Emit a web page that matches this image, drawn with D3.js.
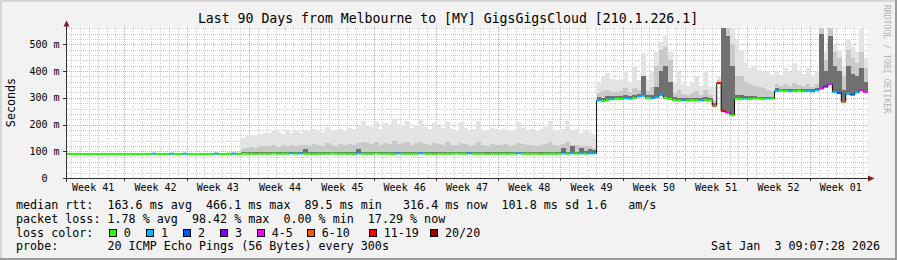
<!DOCTYPE html>
<html><head><meta charset="utf-8">
<script src="https://cdn.jsdelivr.net/npm/d3@7"></script>
<style>
html,body{margin:0;padding:0;background:#f2f2f2;}
svg{display:block;}
text{font-family:"DejaVu Sans Mono",monospace;white-space:pre;}
</style></head><body>
<svg id="chart" width="897" height="260"></svg>
<script>
// ---------------- data ----------------
const title = "Last 90 Days from Melbourne to [MY] GigsGigsCloud [210.1.226.1]";
const yAxisTitle = "Seconds";
const watermark = "RRDTOOL / TOBI OETIKER";
const yTickValues = [0, 100, 200, 300, 400, 500];
const yTickLabels = ["0", "100 m", "200 m", "300 m", "400 m", "500 m"];
const rangeStart = Date.UTC(2025, 9, 5, 13, 26);
const rangeEnd = Date.UTC(2026, 0, 3, 13, 26);
const sampleHours = 12;

// median rtt per 12h sample (ms)
const median = [
  90,90,90,90,89.5,90,90,90,90,90,
  90,90,89.5,90,90,90,90,90,90,91,
  90,90,90,91,90,90,91,90,90,90,
  90,90,90,91,90,90,90,91,90,91,
  91,91,90,91,91,91,92,91,91,91,
  92,91,92,91,91,90,91,91,91,92,
  91,91,91,91,90,92,91,91,91,92,
  91,91,91,90,92,91,91,91,91,92,
  91,91,90,91,91,91,91,92,91,91,
  92,91,91,91,90,91,91,91,91,91,
  91,92,91,91,91,91,90,91,91,91,
  91,92,91,92,91,92,91,92,92,290,
  288,292,295,297,296,298,297,300,305,308,
  300,298,302,310,300,296,292,290,291,290,
  292,291,290,292,290,270,355,250,245,235,
  297,296,298,296,298,297,296,298,297,326,
  327,326,325,326,327,325,326,324,328,335,
  342,352,322,318,285,315,312,320,328,322
];
// loss class index per sample (0:"0" .. 7:"20/20")
const lossClass = [
  0,0,0,0,0,0,0,0,0,0,
  0,0,0,0,0,0,0,0,0,1,
  0,0,0,1,0,0,1,0,0,0,
  0,0,0,1,0,0,0,1,0,0,
  0,0,0,0,0,0,0,0,0,0,
  1,0,1,0,0,0,0,0,0,0,
  0,0,0,0,0,1,0,0,0,0,
  0,0,0,0,1,0,0,0,0,1,
  0,0,0,0,0,0,0,0,0,0,
  1,0,0,0,0,0,0,0,0,0,
  0,1,0,0,0,0,0,0,0,0,
  0,1,0,1,0,1,0,1,1,1,
  0,0,1,0,0,1,1,0,1,1,
  0,1,1,1,0,0,0,0,1,0,
  0,0,1,0,0,5,6,6,4,0,
  0,0,1,0,0,0,0,1,0,1,
  0,0,1,0,0,0,1,1,1,4,
  3,4,1,2,5,1,2,1,4,4
];
// smoke: highest ping per sample (ms)
const smokeMax = [
  93,93,94,93,93,94,93,93,94,93,
  93,94,93,93,94,93,94,93,93,95,
  94,93,94,95,93,94,95,93,94,95,
  94,95,94,96,95,95,96,97,98,150,
  158,162,160,165,170,168,175,172,165,178,
  170,175,168,180,176,185,178,172,190,180,
  176,184,178,188,182,195,215,200,190,210,
  185,205,195,220,190,200,212,188,198,218,
  192,185,205,195,188,210,182,178,208,186,
  176,184,214,180,175,188,182,178,185,176,
  180,210,186,178,184,176,182,190,212,180,
  175,185,215,178,182,170,176,172,165,360,
  380,392,370,365,372,400,360,414,365,466,
  370,400,470,510,533,470,355,403,350,345,
  360,380,345,400,340,335,380,563,563,563,
  515,480,430,410,420,405,395,400,385,400,
  385,410,395,430,405,390,410,380,395,563,
  470,563,500,480,420,515,490,470,563,450
];
// smoke: upper ping band (ms)
const smokeUp = [
  91,91,91,91,91,91,91,91,91,91,
  91,91,91,91,91,91,91,91,91,92,
  91,91,91,92,91,91,92,91,91,91,
  91,91,91,92,91,92,92,93,94,108,
  112,115,112,118,120,118,122,115,125,120,
  122,118,124,125,120,128,122,118,130,124,
  120,126,122,128,125,132,135,130,126,134,
  124,132,128,138,126,130,134,125,130,136,
  128,124,132,128,125,134,124,122,132,126,
  120,125,134,124,120,126,124,122,126,120,
  124,132,126,122,125,120,124,128,134,124,
  120,126,135,122,125,118,120,118,112,318,
  325,330,322,320,325,335,322,338,330,350,
  325,340,420,480,490,440,318,330,315,312,
  318,325,312,330,310,290,365,563,560,500,
  380,380,360,350,345,340,335,330,325,350,
  345,350,345,355,348,344,350,340,350,563,
  440,563,470,450,380,480,450,430,470,410
];
// smoke: dense core band (ms)
const smokeCore = [
  91,91,91,91,91,91,91,91,91,91,
  91,91,91,91,91,91,91,91,91,91,
  91,91,91,91,91,91,91,91,91,91,
  91,91,91,92,91,91,91,92,91,96,
  97,96,98,97,96,97,98,96,97,98,
  97,96,98,108,97,96,97,98,96,97,
  98,97,96,98,97,110,99,97,98,97,
  96,98,97,99,96,97,98,97,96,99,
  97,96,98,97,96,98,97,96,98,97,
  96,97,99,97,96,98,97,96,97,96,
  97,98,96,97,98,96,97,98,99,97,
  96,112,97,118,98,114,100,110,104,302,
  300,305,306,305,306,310,306,312,315,380,
  310,312,340,400,420,360,302,300,298,298,
  300,300,298,302,298,280,360,563,530,420,
  310,310,308,305,305,304,303,304,303,335,
  334,333,333,334,334,332,334,332,336,540,
  400,530,420,400,330,420,390,380,410,360
];
const lossLabels = ["0", "1", "2", "3", "4-5", "6-10", "11-19", "20/20"];
const lossColors = ["#26ff00", "#00b8ff", "#0059ff", "#7e00ff", "#ff00ff", "#ff5500", "#ff0000", "#a10000"];
const legendLines = [
  "median rtt:  163.6 ms avg  466.1 ms max  89.5 ms min   316.4 ms now  101.8 ms sd 1.6   am/s",
  "packet loss: 1.78 % avg  98.42 % max  0.00 % min  17.29 % now",
  "loss color:",
  "probe:       20 ICMP Echo Pings (56 Bytes) every 300s"
];
const dateText = "Sat Jan  3 09:07:28 2026";

// ---------------- drawing ----------------
const W = 897, H = 260;
const svg = d3.select("#chart");
svg.append("rect").attr("width", W).attr("height", H).attr("fill", "#f2f2f2");
svg.append("rect").attr("x", 0).attr("y", 0).attr("width", W).attr("height", 2).attr("fill", "#d6d6d6");
svg.append("rect").attr("x", 0).attr("y", 0).attr("width", 2).attr("height", H).attr("fill", "#d6d6d6");
svg.append("rect").attr("x", 0).attr("y", H - 2).attr("width", W).attr("height", 2).attr("fill", "#9c9c9c");
svg.append("rect").attr("x", W - 2).attr("y", 0).attr("width", 2).attr("height", H).attr("fill", "#9c9c9c");

const L = 67, R = 868, T = 27, B = 178;
const x = d3.scaleUtc().domain([rangeStart, rangeEnd]).range([L, R]);
const y = d3.scaleLinear().domain([0, 565]).range([B, T]);
const crisp = v => Math.round(v) + 0.5;

svg.append("rect").attr("x", L).attr("y", T).attr("width", R - L).attr("height", B - T).attr("fill", "#ffffff");

// grid
const grid = svg.append("g").attr("shape-rendering", "crispEdges").attr("stroke-dasharray", "1,1");
d3.utcDay.range(rangeStart, rangeEnd).forEach(d => {
  grid.append("line").attr("x1", crisp(x(d))).attr("x2", crisp(x(d)))
    .attr("y1", T).attr("y2", B).attr("stroke", "#d0d0d0");
});
d3.range(20, 565, 20).filter(v => v % 100 !== 0).forEach(v => {
  grid.append("line").attr("x1", L).attr("x2", R).attr("y1", crisp(y(v))).attr("y2", crisp(y(v)))
    .attr("stroke", "#d0d0d0");
});
d3.utcSunday.range(rangeStart, rangeEnd).forEach(d => {
  grid.append("line").attr("x1", crisp(x(d))).attr("x2", crisp(x(d)))
    .attr("y1", T).attr("y2", B).attr("stroke", "#eca0a0");
});
yTickValues.filter(v => v > 0).forEach(v => {
  grid.append("line").attr("x1", L).attr("x2", R).attr("y1", crisp(y(v))).attr("y2", crisp(y(v)))
    .attr("stroke", "#eca0a0");
});

// samples
const stepMs = sampleHours * 3600 * 1000;
const samples = median.map((m, i) => ({
  t0: rangeStart + i * stepMs,
  t1: rangeStart + (i + 1) * stepMs,
  med: m, loss: lossClass[i], max: smokeMax[i], up: smokeUp[i], core: smokeCore[i]
}));

// smoke layers
const smoke = svg.append("g").attr("shape-rendering", "crispEdges");
[["max", "#e3e3e3"], ["up", "#c9c9c9"], ["core", "#707070"]].forEach(([key, col]) => {
  smoke.selectAll(null).data(samples).enter().append("rect")
    .attr("x", d => x(d.t0))
    .attr("width", d => x(d.t1) - x(d.t0) + 0.3)
    .attr("y", d => y(Math.max(d[key], d.med)))
    .attr("height", d => Math.abs(y(d.med) - y(Math.max(d[key], d.med))))
    .attr("fill", col);
});

// median line (black step connector + loss colored segments)
const pts = samples.map(d => [x(d.t0), y(d.med)]);
pts.push([x(rangeEnd), y(median[median.length - 1])]);
svg.append("path").attr("d", d3.line().curve(d3.curveStepAfter)(pts))
  .attr("fill", "none").attr("stroke", "#111").attr("stroke-width", 1);
svg.append("g").selectAll("line").data(samples).enter().append("line")
  .attr("x1", d => x(d.t0)).attr("x2", d => x(d.t1))
  .attr("y1", d => y(d.med)).attr("y2", d => y(d.med))
  .attr("stroke", d => lossColors[d.loss]).attr("stroke-width", 2);

// axes
const axisCol = "#333";
const ax = svg.append("g").attr("shape-rendering", "crispEdges");
ax.append("line").attr("x1", 63).attr("x2", 869).attr("y1", B + 0.5).attr("y2", B + 0.5).attr("stroke", axisCol);
ax.append("line").attr("x1", L - 0.5).attr("x2", L - 0.5).attr("y1", 24).attr("y2", 182).attr("stroke", axisCol);
yTickValues.forEach(v => {
  ax.append("line").attr("x1", 63).attr("x2", L).attr("y1", crisp(y(v))).attr("y2", crisp(y(v))).attr("stroke", axisCol);
});
d3.utcSunday.range(rangeStart, rangeEnd).forEach(d => {
  ax.append("line").attr("x1", crisp(x(d))).attr("x2", crisp(x(d))).attr("y1", B).attr("y2", B + 3).attr("stroke", axisCol);
});
svg.append("path").attr("d", "M868,175.5 L868,181.5 L874.5,178.5 Z").attr("fill", "#7f1f1f");
svg.append("path").attr("d", "M63.5,26.5 L69.5,26.5 L66.5,20.5 Z").attr("fill", "#7f1f1f");

// y labels
svg.selectAll(null).data(yTickValues).enter().append("text")
  .attr("x", 44.5).attr("y", v => y(v) + 3.6)
  .attr("text-anchor", "middle").attr("font-size", "10px").attr("fill", "#000")
  .text((v, i) => yTickLabels[i]);

// x labels (ISO week, centred on each week)
const weekFmt = d3.utcFormat("Week %V");
d3.utcSunday.range(d3.utcSunday.floor(rangeStart), rangeEnd).forEach(d => {
  const c = new Date(+d + 3.5 * 864e5);
  svg.append("text").attr("x", x(c)).attr("y", 191.3)
    .attr("text-anchor", "middle").attr("font-size", "10px").attr("fill", "#000")
    .text(weekFmt(c));
});

// title, axis title, watermark
svg.append("text").attr("x", 448).attr("y", 23).attr("text-anchor", "middle")
  .attr("font-size", "13.2px").attr("fill", "#000").text(title);
svg.append("text").attr("transform", "translate(15,102.5) rotate(-90)").attr("text-anchor", "middle")
  .attr("font-size", "11.7px").attr("fill", "#000").text(yAxisTitle);
svg.append("text").attr("transform", "translate(883.5,59) rotate(90)").attr("text-anchor", "middle")
  .attr("font-size", "8.2px").attr("fill", "#b4b4b4").text(watermark);

// legend
const legendBase = [208.7, 222.5, 236.5, 250.3];
legendLines.forEach((s, i) => {
  svg.append("text").attr("x", 16).attr("y", legendBase[i]).attr("xml:space", "preserve")
    .attr("font-size", "11.7px").attr("fill", "#000").text(s);
});
const boxX = [108.7, 146, 183, 220, 256.7, 306.7, 368.7, 430];
lossLabels.forEach((lab, i) => {
  svg.append("rect").attr("x", boxX[i] + 0.5).attr("y", 229.5).attr("width", 7).attr("height", 7)
    .attr("fill", lossColors[i]).attr("stroke", "#000").attr("stroke-width", 1)
    .attr("shape-rendering", "crispEdges");
  svg.append("text").attr("x", boxX[i] + 15).attr("y", legendBase[2]).attr("font-size", "11.7px")
    .attr("fill", "#000").text(lab);
});
svg.append("text").attr("x", 880).attr("y", legendBase[3]).attr("text-anchor", "end")
  .attr("xml:space", "preserve").attr("font-size", "11.7px").attr("fill", "#000").text(dateText);
</script>
</body></html>
